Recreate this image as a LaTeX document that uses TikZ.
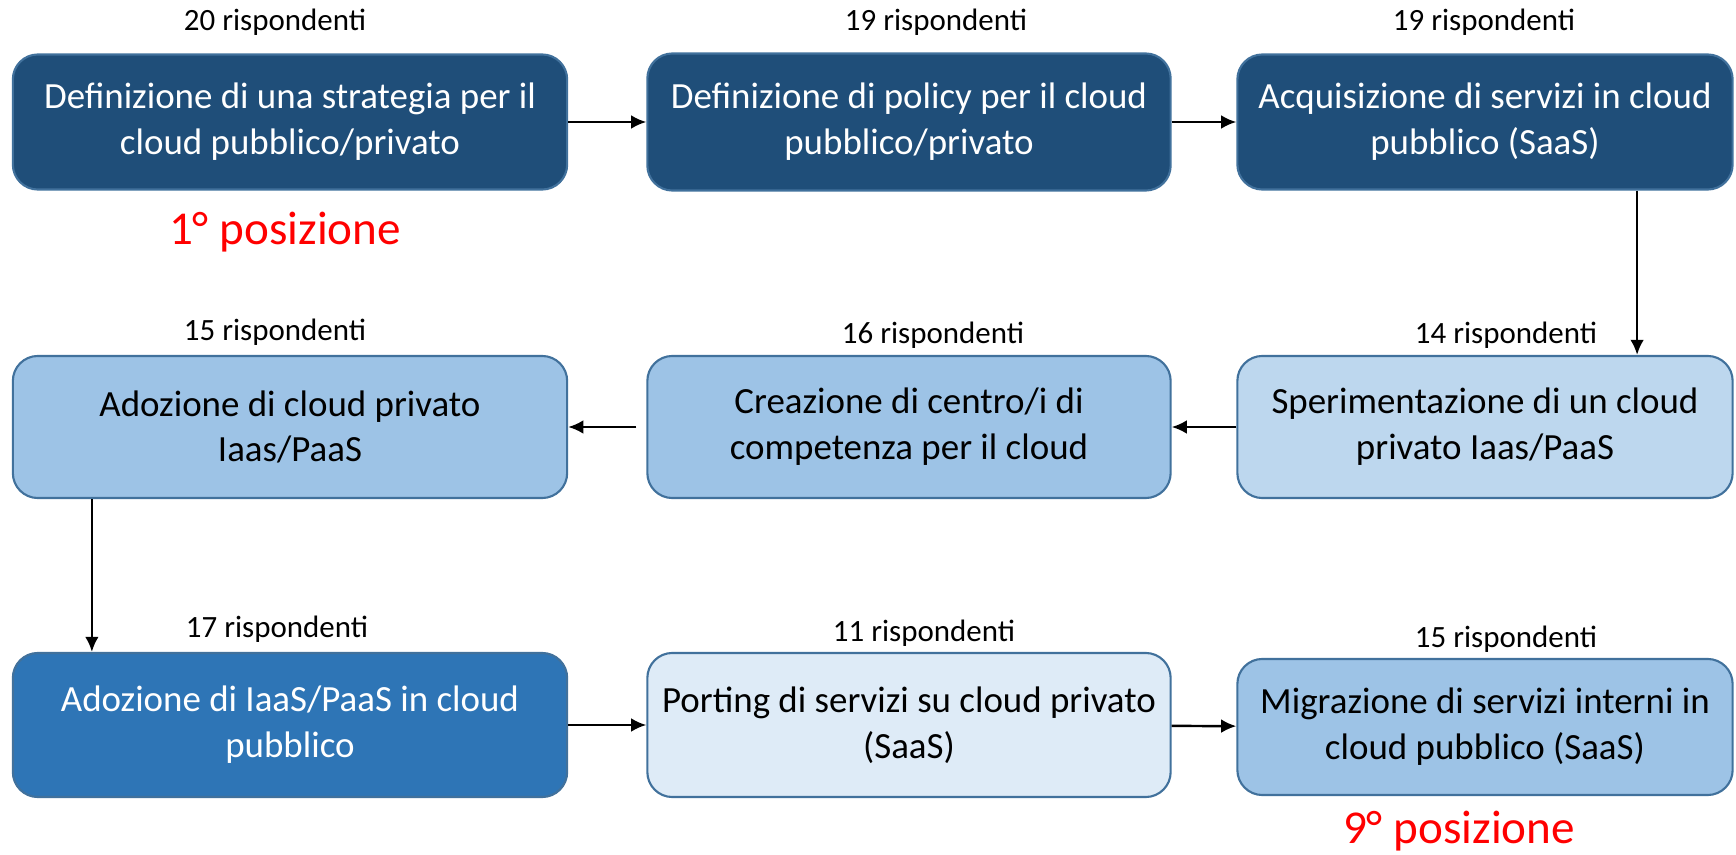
\documentclass[tikz,border=0pt]{standalone}
\usepackage{fontspec}
\setmainfont{Carlito}
\usepackage{xcolor}
\usetikzlibrary{arrows.meta}
\definecolor{navy}{HTML}{1F4E79}
\definecolor{midblue}{HTML}{2E75B6}
\definecolor{skyblue}{HTML}{9DC3E6}
\definecolor{paleblue}{HTML}{BDD7EE}
\definecolor{iceblue}{HTML}{DEEBF7}
\definecolor{edgeblue}{HTML}{41719C}
\tikzset{
  box/.style={draw=edgeblue, line width=0.6pt, rounded corners=0.25cm, align=center,
    inner sep=0pt, font=\fontsize{10.5}{13}\selectfont},
  col1/.style={minimum width=5.54cm},
  col2/.style={minimum width=5.23cm},
  col3/.style={minimum width=4.95cm},
  resp/.style={font=\fontsize{8.8}{10.5}\selectfont},
  rank/.style={text=red, font=\fontsize{13.4}{16}\selectfont},
  flow/.style={-{Latex[length=4.3pt,width=3.9pt]}, line width=0.7pt}
}

\begin{document}
\begin{tikzpicture}[x=0.01cm, y=-0.01cm]
    \useasboundingbox (0,0) rectangle (1736,855);

    \node[box, col1, fill=navy, text=white, minimum height=1.35cm](S1) at ( 290, 122) {Definizione di una strategia per il\\cloud pubblico/privato};
    \node[box, col2, fill=navy, text=white, minimum height=1.37cm](S2) at ( 909, 122) {Definizione di policy per il cloud\\pubblico/privato};
    \node[box, col3, fill=navy, text=white, minimum height=1.35cm](S3) at (1485, 122) {Acquisizione di servizi in cloud\\pubblico (SaaS)};

    \node[box, col1, fill=skyblue,  minimum height=1.42cm](S4) at ( 290, 427) {Adozione di cloud privato\\Iaas/PaaS};
    \node[box, col2, fill=skyblue,  minimum height=1.42cm](S5) at ( 909, 427) {Creazione di centro/i di\\competenza per il cloud};
    \node[box, col3, fill=paleblue, minimum height=1.42cm](S6) at (1485, 427) {Sperimentazione di un cloud\\privato Iaas/PaaS};

    \node[box, col1, fill=midblue, text=white, minimum height=1.44cm](S7) at ( 290, 725) {Adozione di IaaS/PaaS in cloud\\pubblico};
    \node[box, col2, fill=iceblue, minimum height=1.44cm](S8) at ( 909, 725) {Porting di servizi su cloud privato\\(SaaS)};
    \node[box, col3, fill=skyblue, minimum height=1.36cm](S9) at (1485, 727) {Migrazione di servizi interni in\\cloud pubblico (SaaS)};

    \node[resp](R1) at ( 275,  22) {20 rispondenti};
    \node[resp](R2) at ( 936,  22) {19 rispondenti};
    \node[resp](R3) at (1484,  22) {19 rispondenti};
    \node[resp](R4) at ( 275, 332) {15 rispondenti};
    \node[resp](R5) at ( 933, 335) {16 rispondenti};
    \node[resp](R6) at (1506, 335) {14 rispondenti};
    \node[resp](R7) at ( 277, 629) {17 rispondenti};
    \node[resp](R8) at ( 924, 633) {11 rispondenti};
    \node[resp](R9) at (1506, 639) {15 rispondenti};

    \node[rank](P1) at ( 285, 232) {1° posizione};
    \node[rank](P9) at (1459, 831) {9° posizione};

    \draw[flow] (S1) -- (S2);
    \draw[flow] (S2) -- (S3);
    \draw[flow] ([xshift=1.52cm]S3.south) -- ([xshift=1.52cm]S6.north);
    \draw[flow] (S6) -- (S5);
    \draw[flow, shorten <=0.1cm] (S5) -- (S4);
    \draw[flow] ([xshift=-1.98cm]S4.south) -- ([xshift=-1.98cm]S7.north);
    \draw[flow] (S7) -- (S8);
    \draw[flow] (S8) -- (S9);
  \end{tikzpicture}
\end{document}
